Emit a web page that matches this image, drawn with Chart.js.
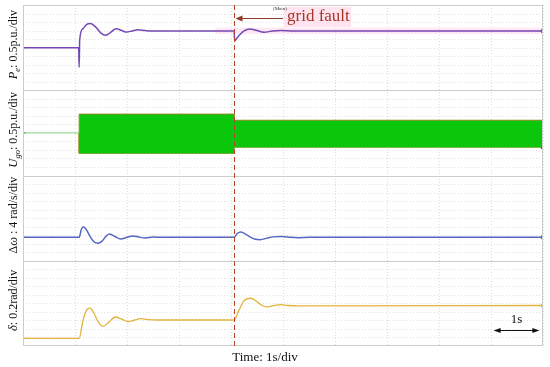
<!DOCTYPE html>
<html lang="en">
<head>
  <meta charset="UTF-8">
  <title>Grid fault response</title>
  <script src="https://cdn.jsdelivr.net/npm/chart.js"></script>
  <style>
    html, body { margin: 0; padding: 0; background: #fff; }
  </style>
</head>
<body>
<canvas id="faultChart" width="550" height="367"></canvas>

<script>
  // time base: 10 s on screen, 1 s/div
  const timeMin = 0;
  const timeMax = 10;
  const faultTime = 4.06;

  // P_e (p.u.)
  const peTime  = [0, 1.07, 1.08, 1.09, 1.15, 1.22, 1.30, 1.40, 1.50, 1.58, 1.68, 1.79, 1.90, 1.99, 2.10, 2.21, 2.35, 2.50, 4.06, 4.07, 4.15, 4.25, 4.37, 4.50, 4.63, 4.80, 4.95, 5.20, 10];
  const peValue = [0, 0, -1.15, 0.45, 1.10, 1.35, 1.41, 1.20, 0.85, 0.72, 0.88, 1.11, 1.00, 0.91, 0.98, 1.05, 1.00, 0.97, 0.97, 0.42, 0.70, 0.98, 1.09, 1.00, 0.90, 0.97, 1.00, 0.97, 0.97];

  // U_go (p.u.): envelope of the fast switching waveform
  const ugoBaseTime  = [0, 1.08];
  const ugoBaseValue = [0, 0];
  const ugoBandTime  = [1.08, 1.08, 4.06, 4.06, 10];
  const ugoUpper     = [0, 1.10, 1.10, 0.74, 0.74];
  const ugoLower     = [0, -1.20, -1.20, -0.84, -0.84];

  // delta omega (rad/s)
  const dwTime  = [0, 1.08, 1.12, 1.16, 1.22, 1.30, 1.37, 1.44, 1.52, 1.58, 1.66, 1.76, 1.88, 2.00, 2.11, 2.23, 2.35, 2.50, 2.70, 4.06, 4.12, 4.19, 4.28, 4.38, 4.47, 4.56, 4.68, 4.80, 4.98, 5.15, 5.30, 5.50, 10];
  const dwValue = [0, 0, 3.5, 5.0, 3.5, 0, -2.2, -2.8, -1.8, 0, 1.6, 0.5, -0.75, 0, 0.66, 0.1, -0.3, 0.1, 0, 0, 1.8, 2.5, 1.5, 0, -0.9, -1.1, -0.5, 0.2, 0.4, 0, -0.15, 0, 0];

  // delta (rad)
  const deltaTime  = [0, 1.08, 1.15, 1.22, 1.29, 1.36, 1.45, 1.54, 1.65, 1.78, 1.90, 2.03, 2.15, 2.26, 2.40, 2.60, 4.06, 4.15, 4.25, 4.38, 4.50, 4.60, 4.69, 4.80, 4.95, 5.10, 5.30, 10];
  const deltaValue = [0, 0, 0.40, 0.66, 0.71, 0.60, 0.38, 0.28, 0.38, 0.50, 0.45, 0.39, 0.43, 0.46, 0.44, 0.43, 0.43, 0.65, 0.88, 0.94, 0.86, 0.77, 0.74, 0.76, 0.79, 0.77, 0.76, 0.77];

  const toXY = (xs, ys) => xs.map((x, i) => ({ x: x, y: ys[i] }));

  const serif = '"Liberation Serif", "DejaVu Serif", serif';

  // little marker at the start and end of each trace, like the scope
  function endMarks(color) {
    return {
      pointRadius: c => (c.dataIndex === 0 ? 3 : (c.dataIndex === c.dataset.data.length - 1 ? 2 : 0)),
      pointStyle: c => (c.dataIndex === 0 ? 'cross' : 'circle'),
      pointBorderColor: color,
      pointBackgroundColor: color,
      pointBorderWidth: 1
    };
  }

  function yAxis(min, max) {
    return {
      type: 'linear', position: 'left', stack: 'panels', stackWeight: 1,
      min: min, max: max,
      ticks: { display: false },
      grid: { display: false, drawTicks: false },
      border: { display: false }
    };
  }

  // rotated axis label with mixed fonts (italic symbols, subscripts)
  function drawRotated(ctx, x, yc, parts) {
    let total = 0;
    parts.forEach(p => { ctx.font = p.font; p.w = ctx.measureText(p.t).width; total += p.w; });
    ctx.save();
    ctx.translate(x, yc);
    ctx.rotate(-Math.PI / 2);
    ctx.textBaseline = 'alphabetic';
    ctx.textAlign = 'left';
    ctx.fillStyle = '#111';
    let pos = -total / 2;
    parts.forEach(p => {
      ctx.font = p.font;
      ctx.fillText(p.t, pos, p.dy || 0);
      pos += p.w;
    });
    ctx.restore();
  }

  const it13 = 'italic 12.5px ' + serif;
  const rm13 = '12px ' + serif;
  const sub9 = 'italic 8.5px ' + serif;

  const panelLabels = {
    pe:    [{ t: 'P', font: it13 }, { t: 'e', font: sub9, dy: 3 }, { t: ': 0.5p.u./div', font: rm13 }],
    ugo:   [{ t: 'U', font: it13 }, { t: 'go', font: sub9, dy: 3 }, { t: ': 0.5p.u./div', font: rm13 }],
    dw:    [{ t: '\u0394', font: rm13 }, { t: '\u03c9', font: it13 }, { t: ' : 4 rad/s/div', font: rm13 }],
    delta: [{ t: '\u03b4', font: it13 }, { t: ': 0.2rad/div', font: rm13 }]
  };

  const scopeDecor = {
    id: 'scopeDecor',
    beforeDatasetsDraw(chart) {
      const ctx = chart.ctx;
      const area = chart.chartArea;
      const xs = chart.scales.x;
      ctx.save();
      // dotted horizontal grid, 10 div per panel
      ctx.strokeStyle = '#e2e2e2';
      ctx.lineWidth = 1;
      ctx.setLineDash([1, 2]);
      ['pe', 'ugo', 'dw', 'delta'].forEach(id => {
        const s = chart.scales[id];
        for (let k = 1; k < 10; k++) {
          const y = Math.round(s.top + (s.bottom - s.top) * k / 10) + 0.5;
          ctx.beginPath();
          ctx.moveTo(area.left, y);
          ctx.lineTo(area.right, y);
          ctx.stroke();
        }
      });
      ctx.setLineDash([]);
      // pink highlight left behind the P_e trace
      const pe = chart.scales.pe;
      ctx.fillStyle = 'rgba(255, 210, 235, 0.5)';
      const x0 = xs.getPixelForValue(3.7);
      const yTop = pe.getPixelForValue(1.17);
      const yBot = pe.getPixelForValue(0.8);
      ctx.fillRect(x0, yTop, area.right - x0, yBot - yTop);
      ctx.restore();
    },
    afterDatasetsDraw(chart) {
      const ctx = chart.ctx;
      const area = chart.chartArea;
      const xs = chart.scales.x;
      ctx.save();

      // panel frame and separators
      ctx.strokeStyle = '#cccccc';
      ctx.lineWidth = 1;
      ctx.strokeRect(area.left + 0.5, area.top + 0.5, area.right - area.left - 1, area.bottom - area.top - 1);
      ['pe', 'ugo', 'dw'].forEach(id => {
        const y = Math.round(chart.scales[id].bottom) + 0.5;
        ctx.beginPath();
        ctx.moveTo(area.left, y);
        ctx.lineTo(area.right, y);
        ctx.stroke();
      });

      // fault instant
      const xf = Math.round(xs.getPixelForValue(faultTime)) + 0.5;
      ctx.strokeStyle = '#b8442e';
      ctx.setLineDash([5, 3]);
      ctx.beginPath();
      ctx.moveTo(xf, area.top);
      ctx.lineTo(xf, area.bottom);
      ctx.stroke();
      ctx.setLineDash([]);

      // "grid fault" annotation
      ctx.fillStyle = 'rgba(255, 224, 236, 0.9)';
      ctx.fillRect(284, 7, 67, 20);
      ctx.font = '17px ' + serif;
      ctx.fillStyle = '#a8352a';
      ctx.textAlign = 'left';
      ctx.textBaseline = 'alphabetic';
      ctx.fillText('grid fault', 287, 21);
      ctx.font = '5px ' + serif;
      ctx.fillStyle = '#333';
      ctx.fillText('(Main)', 273, 10);
      ctx.strokeStyle = '#8e3a28';
      ctx.fillStyle = '#8e3a28';
      ctx.lineWidth = 1.2;
      ctx.beginPath();
      ctx.moveTo(283, 18.5);
      ctx.lineTo(xf + 3, 18.5);
      ctx.stroke();
      ctx.beginPath();
      ctx.moveTo(xf + 1, 18.5);
      ctx.lineTo(xf + 8, 15.5);
      ctx.lineTo(xf + 8, 21.5);
      ctx.closePath();
      ctx.fill();

      // 1 s scale marker
      const xa = xs.getPixelForValue(9.05);
      const xb = xs.getPixelForValue(9.93);
      const ya = 330.5;
      ctx.strokeStyle = '#111';
      ctx.fillStyle = '#111';
      ctx.lineWidth = 1;
      ctx.beginPath();
      ctx.moveTo(xa + 3, ya);
      ctx.lineTo(xb - 3, ya);
      ctx.stroke();
      [[xa, 1], [xb, -1]].forEach(([px, d]) => {
        ctx.beginPath();
        ctx.moveTo(px, ya);
        ctx.lineTo(px + 7 * d, ya - 2.5);
        ctx.lineTo(px + 7 * d, ya + 2.5);
        ctx.closePath();
        ctx.fill();
      });
      ctx.font = '13px ' + serif;
      ctx.textAlign = 'center';
      ctx.fillText('1s', (xa + xb) / 2, 323);

      // axis titles
      Object.keys(panelLabels).forEach(id => {
        const s = chart.scales[id];
        drawRotated(ctx, 17, (s.top + s.bottom) / 2 - 3, panelLabels[id]);
      });
      ctx.font = '13px ' + serif;
      ctx.fillStyle = '#111';
      ctx.textAlign = 'center';
      ctx.fillText('Time: 1s/div', 265, 361);

      ctx.restore();
    }
  };

  const ctxScope = document.getElementById('faultChart').getContext('2d');
  const scopeChart = new Chart(ctxScope, {
    type: 'line',
    data: {
      datasets: [
        {
          label: 'Pe',
          data: toXY(peTime, peValue),
          yAxisID: 'pe',
          borderColor: '#7548b2',
          borderWidth: 1.5,
          cubicInterpolationMode: 'monotone',
          ...endMarks('#7548b2')
        },
        {
          label: 'Ugo base',
          data: toXY(ugoBaseTime, ugoBaseValue),
          yAxisID: 'ugo',
          borderColor: '#86d486',
          borderWidth: 1,
          pointRadius: c => (c.dataIndex === 0 ? 3 : 0),
          pointStyle: 'cross',
          pointBorderColor: '#4caf50'
        },
        {
          label: 'Ugo upper',
          data: toXY(ugoBandTime, ugoUpper),
          yAxisID: 'ugo',
          borderColor: '#8a8a1c',
          borderWidth: 1,
          pointRadius: 0,
          fill: '+1',
          backgroundColor: '#0bc70b'
        },
        {
          label: 'Ugo lower',
          data: toXY(ugoBandTime, ugoLower),
          yAxisID: 'ugo',
          borderColor: '#8a8a1c',
          borderWidth: 1,
          pointRadius: c => (c.dataIndex === c.dataset.data.length - 1 ? 2 : 0),
          pointBackgroundColor: '#3a7a1a',
          pointBorderColor: '#3a7a1a'
        },
        {
          label: 'dw',
          data: toXY(dwTime, dwValue),
          yAxisID: 'dw',
          borderColor: '#5566c0',
          borderWidth: 1.5,
          cubicInterpolationMode: 'monotone',
          ...endMarks('#5566c0')
        },
        {
          label: 'delta',
          data: toXY(deltaTime, deltaValue),
          yAxisID: 'delta',
          borderColor: '#e2b43a',
          borderWidth: 1.3,
          cubicInterpolationMode: 'monotone',
          ...endMarks('#e2b43a')
        }
      ]
    },
    options: {
      responsive: false,
      animation: false,
      devicePixelRatio: 1,
      layout: { padding: { left: 23, right: 7, top: 4, bottom: 21 } },
      plugins: {
        legend: { display: false },
        tooltip: { enabled: false },
        title: { display: false }
      },
      scales: {
        x: {
          type: 'linear', min: timeMin, max: timeMax,
          ticks: { display: false, stepSize: 1 },
          grid: { color: '#dddddd', drawTicks: false },
          border: { display: false, dash: [1, 2] }
        },
        delta: yAxis(-0.18, 1.82),
        dw: yAxis(-11, 29),
        ugo: yAxis(-2.5, 2.5),
        pe: yAxis(-2.5, 2.5)
      }
    },
    plugins: [scopeDecor]
  });
</script>
</body>
</html>
